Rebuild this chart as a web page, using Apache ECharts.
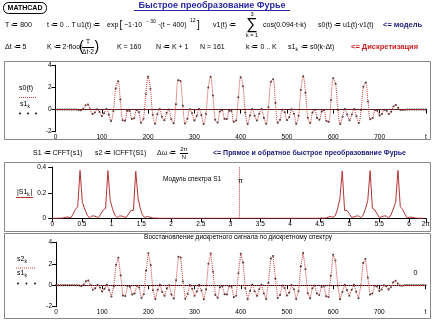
<!DOCTYPE html>
<html><head><meta charset="utf-8">
<script src="https://cdn.jsdelivr.net/npm/echarts@6/dist/echarts.min.js"></script>
<style>html,body{margin:0;padding:0;background:#fff}#c{width:434px;height:320px}</style>
</head><body><div id="c"></div>
<script>
// sampling step (Δt) and number of samples N
const dt = 5;
const N = 161;
// s1_k = s0(k·Δt), k = 0..160
const s1 = [
 0,0,0,0,0,0,0,0,0,0,
 -0.03,-0.07,0.07,0.38,0.45,0.02,-0.41,-0.27,0.02,-0.22,
 -0.59,-0.33,0.04,-0.44,-1.04,-0.12,1.91,2.57,0.90,-0.96,
 -1.01,-0.10,-0.13,-0.86,-0.78,-0.04,-0.22,-1.18,-0.83,1.38,
 2.97,1.88,-0.47,-1.29,-0.42,0.04,-0.64,-0.97,-0.29,0.01,
 -0.87,-1.23,0.47,2.66,2.59,0.34,-1.26,-0.82,0.03,-0.33,
 -0.98,-0.59,0.05,-0.48,-1.31,-0.37,2.00,2.96,1.26,-0.91,
 -1.16,-0.18,-0.07,-0.83,-0.86,-0.10,-0.14,-1.11,-0.98,1.12,
 2.93,2.11,-0.26,-1.31,-0.53,0.05,-0.55,-0.99,-0.37,0.04,
 -0.76,-1.28,0.21,2.50,2.73,0.60,-1.19,-0.92,-0.02,-0.25,
 -0.95,-0.68,0.02,-0.37,-1.28,-0.57,1.76,3.00,1.52,-0.75,
 -1.22,-0.27,-0.02,-0.76,-0.91,-0.17,-0.07,-1.02,-1.10,0.86,
 2.84,2.31,-0.03,-1.30,-0.64,0.05,-0.45,-0.97,-0.45,0.05,
 -0.61,-1.22,-0.03,2.06,2.45,0.72,-0.87,-0.77,-0.05,-0.11,
 -0.54,-0.40,-0.01,-0.10,-0.39,-0.19,0.28,0.41,0.16,-0.03,
 -0.04,-0.01,0,0,0,0,0,0,0,0,
 0
];
// s2 = ICFFT(CFFT(s1)) : the reconstructed samples equal s1
const s2 = s1.slice();
// |S1_k| , k = 0..160
const S1abs = [
 0,0,0,0.001,0.001,0.004,0.009,0.009,0.003,0.032,
 0.069,0.092,0.376,0.125,0.073,0.028,0.003,0.017,0.019,0.012,
 0.006,0.035,0.066,0.077,0.374,0.141,0.074,0.025,0.005,0.018,
 0.018,0.010,0.008,0.036,0.062,0.062,0.370,0.158,0.074,0.021,
 0.007,0.014,0.010,0.003,0.001,0.002,0,0,0,0,
 0,0,0,0,0,0,0,0,0,0,
 0,0,0,0,0,0,0,0,0,0,
 0,0,0,0,0,0,0,0,0,0,
 0,0,0,0,0,0,0,0,0,0,
 0,0,0,0,0,0,0,0,0,0,
 0,0,0,0,0,0,0,0,0,0,
 0,0,0,0,0,0,0.002,0.001,0.003,0.010,
 0.014,0.007,0.021,0.074,0.158,0.370,0.062,0.062,0.036,0.008,
 0.010,0.018,0.018,0.005,0.025,0.074,0.141,0.374,0.077,0.066,
 0.035,0.006,0.012,0.019,0.017,0.003,0.028,0.073,0.125,0.376,
 0.092,0.069,0.032,0.003,0.009,0.009,0.004,0.001,0.001,0,
 0
];
const dOmega = 2 * Math.PI / N;
const tMax = 800;
const wMax = 2 * Math.PI;
const markerPi = [Math.PI];
const markerZero = [0];

const FONT = '"Liberation Sans", Arial, sans-serif';
const RED = '#cc3b3b';
const SPEC = '#b33434';
const NAVY = '#1c1c78';

const timeData = a => a.map((v, k) => [k * dt, v]);
const freqData = a => a.map((v, k) => [k * dOmega, v]);

function xBottom(grid, max, interval, fmt) {
  return {gridIndex: grid, type: 'value', position: 'bottom', min: 0, max: max, interval: interval,
    axisLine: {show: true, lineStyle: {color: '#000', width: 1}},
    axisTick: {show: false}, splitLine: {show: false},
    axisLabel: {show: true, fontSize: 6.5, fontFamily: FONT, color: '#000', margin: 2, formatter: fmt}};
}
function xTop(grid, max, interval) {
  return {gridIndex: grid, type: 'value', position: 'top', min: 0, max: max, interval: interval,
    axisLine: {show: true, lineStyle: {color: '#000', width: 1}},
    axisTick: {show: true, inside: true, length: 4, lineStyle: {color: '#000'}},
    splitLine: {show: false}, axisLabel: {show: false}};
}
function yLeft(grid, min, max, interval, margin) {
  return {gridIndex: grid, type: 'value', position: 'left', min: min, max: max, interval: interval,
    axisLine: {show: true, lineStyle: {color: '#000', width: 1}},
    axisTick: {show: true, inside: false, length: 3, lineStyle: {color: '#000'}},
    splitLine: {show: false},
    axisLabel: {show: true, fontSize: 6.5, fontFamily: FONT, color: '#000', margin: margin}};
}
function yRight(grid, min, max, interval) {
  return {gridIndex: grid, type: 'value', position: 'right', min: min, max: max, interval: interval,
    axisLine: {show: true, lineStyle: {color: '#000', width: 1}},
    axisTick: {show: true, inside: true, length: 4, lineStyle: {color: '#000'}},
    splitLine: {show: false}, axisLabel: {show: false}};
}
const tFmt = v => (v === tMax ? 't' : String(v));
const wFmt = v => (v > 6.2 ? '2π' : String(v));

function T(x, y, text, o) {
  o = o || {};
  return {type: 'text', x: x, y: y, z: 50, silent: true,
    style: {text: text, fontSize: o.size || 7, fontFamily: FONT, fontWeight: o.bold ? 'bold' : 'normal',
      fill: o.color || '#000', align: o.align || 'left', verticalAlign: 'middle'}};
}
function L(x1, y1, x2, y2, color, dash) {
  return {type: 'line', z: 50, silent: true, shape: {x1: x1, y1: y1, x2: x2, y2: y2},
    style: {stroke: color || '#000', lineWidth: 1, lineDash: dash || null}};
}
function R(x, y, w, h, color, r) {
  return {type: 'rect', z: 1, silent: true, shape: {x: x, y: y, width: w, height: h, r: r || 0},
    style: {fill: null, stroke: color || '#888', lineWidth: 1}};
}
function D(x, y) {
  return {type: 'circle', z: 50, silent: true, shape: {cx: x, cy: y, r: 0.9}, style: {fill: '#000'}};
}

const graphics = [
  // header
  R(3.5, 2.5, 43, 11, '#000', 5),
  T(25, 8, 'MATHCAD', {bold: true, size: 7, align: 'center'}),
  T(212, 5.5, 'Быстрое преобразование Фурье', {bold: true, size: 9, color: '#2b2ba6', align: 'center'}),
  L(134, 10.5, 290, 10.5, '#2b2ba6'),
  // line 2
  T(5, 25, 'T ≔ 800'),
  T(47, 25, 't ≔ 0 .. T'),
  T(77, 25, 'u1(t) ≔'),
  T(107, 25, 'exp'),
  T(119.5, 25, '[', {size: 10}),
  T(124, 25, '−1·10'),
  T(146, 21.5, '− 30', {size: 5}),
  T(158, 25, '·(t − 400)'),
  T(190, 21, '12', {size: 5}),
  T(197, 25, ']', {size: 10}),
  T(213, 25, 'v1(t) ≔'),
  T(252, 25, '∑', {size: 16, align: 'center'}),
  T(252, 14.5, '3', {size: 5.5, align: 'center'}),
  T(252, 35.5, 'k = 1', {size: 5.5, align: 'center'}),
  T(263, 25, 'cos(0.094·t·k)'),
  T(318, 25, 's0(t) ≔ u1(t)·v1(t)'),
  T(383, 25, '<= модель', {bold: true, size: 7.5, color: NAVY}),
  // line 3
  T(5, 47, 'Δt ≔ 5'),
  T(47, 47, 'K ≔ 2·floor'),
  T(79, 47, '(', {size: 14}),
  T(88, 42, 'T', {size: 6.5, align: 'center'}),
  L(82, 47.5, 94, 47.5),
  T(88, 52.5, 'Δt·2', {size: 6.5, align: 'center'}),
  T(94.5, 47, ')', {size: 14}),
  T(117, 47, 'K = 160'),
  T(156, 47, 'N ≔ K + 1'),
  T(200, 47, 'N = 161'),
  T(246, 47, 'k ≔ 0 .. K'),
  T(288, 47, 's1'),
  T(295.5, 49.5, 'k', {size: 5}),
  T(299, 47, ' ≔ s0(k·Δt)'),
  T(351, 47, '<= Дискретизация', {bold: true, size: 7.5, color: '#cc2020'}),
  // middle line
  T(33, 153.5, 'S1 ≔ CFFT(s1)'),
  T(95, 153.5, 's2 ≔ ICFFT(S1)'),
  T(157, 153.5, 'Δω ≔'),
  T(184, 149.5, '2π', {size: 6, align: 'center'}),
  L(180, 153.5, 188, 153.5),
  T(184, 157.5, 'N', {size: 6, align: 'center'}),
  T(213, 153.5, '<= Прямое и обратное быстрое преобразование Фурье', {bold: true, size: 7, color: NAVY}),
  // panel frames
  R(4.5, 61.5, 426, 78),
  R(4.5, 162.5, 426, 69),
  R(4.5, 233.5, 426, 85),
  // panel 1 legend
  T(19, 88.5, 's0(t)'),
  L(19, 97.5, 37, 97.5, RED, [1, 1]),
  T(20, 104, 's1'),
  T(27.5, 106.5, 'k', {size: 5}),
  D(20, 113.5), D(28, 113.5), D(36, 113.5),
  // panel 2 legend + texts
  T(17, 192, '|S1'),
  T(27.3, 194.5, 'k', {size: 5}),
  T(30.5, 192, '|'),
  L(16, 197.5, 33, 197.5, SPEC),
  T(163, 179, 'Модуль спектра S1', {size: 6.5}),
  T(240.5, 181, 'π', {size: 7, align: 'center'}),
  // panel 3 legend + texts
  T(17, 259.5, 's2'),
  T(24.5, 262, 'k', {size: 5}),
  L(16, 268, 35, 268, RED, [1, 1]),
  T(17, 273.5, 's1'),
  T(24.5, 276, 'k', {size: 5}),
  D(18, 283.5), D(26.5, 283.5), D(35, 283.5),
  T(238, 237.5, 'Восстановление дискретного сигнала по дискретному спектру', {size: 6.5, align: 'center'}),
  T(415.5, 273.5, '0', {size: 7, align: 'center'})
];

const chart = echarts.init(document.getElementById('c'), null, {renderer: 'canvas'});
chart.setOption({
  animation: false,
  backgroundColor: '#fff',
  textStyle: {fontFamily: FONT},
  grid: [
    {left: 55.5, top: 65.3, width: 370.4, height: 66.4},
    {left: 52.2, top: 167.3, width: 373.6, height: 51},
    {left: 56, top: 242.3, width: 369.5, height: 64.4}
  ],
  xAxis: [
    xBottom(0, tMax, 100, tFmt), xTop(0, tMax, 100),
    xBottom(1, wMax, 0.5, wFmt), xTop(1, wMax, 0.5),
    xBottom(2, tMax, 100, tFmt), xTop(2, tMax, 100)
  ],
  yAxis: [
    yLeft(0, -2, 4, 2, 4), yRight(0, -2, 4, 2),
    yLeft(1, 0, 0.4, 0.2, 6), yRight(1, 0, 0.4, 0.2),
    yLeft(2, -2, 4, 2, 4), yRight(2, -2, 4, 2)
  ],
  series: [
    {type: 'line', name: 's0(t)', xAxisIndex: 0, yAxisIndex: 0, data: timeData(s1), smooth: 0.35,
      showSymbol: false, lineStyle: {color: RED, width: 1, type: [1, 1]},
      markLine: {silent: true, symbol: ['none', 'none'], label: {show: false},
        lineStyle: {color: RED, width: 1, type: [1, 1]}, data: markerZero.map(v => ({yAxis: v}))}},
    {type: 'scatter', name: 's1', xAxisIndex: 0, yAxisIndex: 0, data: timeData(s1), symbolSize: 2,
      itemStyle: {color: '#000'}},
    {type: 'line', name: '|S1|', xAxisIndex: 2, yAxisIndex: 2, data: freqData(S1abs),
      showSymbol: false, lineStyle: {color: SPEC, width: 1},
      markLine: {silent: true, symbol: ['none', 'none'], label: {show: false},
        lineStyle: {color: RED, width: 1, type: [1, 1]}, data: markerPi.map(v => ({xAxis: v}))}},
    {type: 'line', name: 's2', xAxisIndex: 4, yAxisIndex: 4, data: timeData(s2),
      showSymbol: false, lineStyle: {color: RED, width: 1, type: [1, 1]},
      markLine: {silent: true, symbol: ['none', 'none'], label: {show: false},
        lineStyle: {color: RED, width: 1, type: [1, 1]}, data: markerZero.map(v => ({yAxis: v}))}},
    {type: 'scatter', name: 's1b', xAxisIndex: 4, yAxisIndex: 4, data: timeData(s1), symbolSize: 2,
      itemStyle: {color: '#000'}}
  ],
  graphic: graphics
});
</script>
</body></html>
